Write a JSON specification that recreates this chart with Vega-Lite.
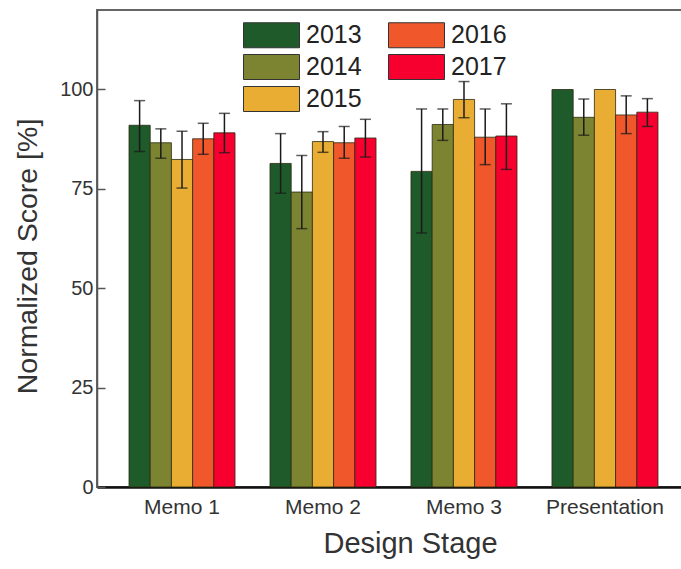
{
  "$schema": "https://vega.github.io/schema/vega-lite/v6.json",
  "autosize": {"type": "none"},
  "padding": {"left": 97, "top": 10, "right": 0, "bottom": 82},
  "width": 593,
  "height": 477,
  "background": "white",
  "config": {
    "font": "Liberation Sans",
    "view": {"stroke": "#666", "strokeWidth": 2}
  },
  "data": {
    "values": [
      {"stage": "Memo 1", "year": "2013", "value": 91.0, "lo": 84.4, "hi": 97.2},
      {"stage": "Memo 1", "year": "2014", "value": 86.6, "lo": 82.7, "hi": 90.1},
      {"stage": "Memo 1", "year": "2015", "value": 82.4, "lo": 75.2, "hi": 89.5},
      {"stage": "Memo 1", "year": "2016", "value": 87.6, "lo": 83.7, "hi": 91.5},
      {"stage": "Memo 1", "year": "2017", "value": 89.1, "lo": 84.1, "hi": 94.0},
      {"stage": "Memo 2", "year": "2013", "value": 81.4, "lo": 73.9, "hi": 88.9},
      {"stage": "Memo 2", "year": "2014", "value": 74.2, "lo": 65.0, "hi": 83.4},
      {"stage": "Memo 2", "year": "2015", "value": 86.9, "lo": 84.2, "hi": 89.4},
      {"stage": "Memo 2", "year": "2016", "value": 86.6, "lo": 82.7, "hi": 90.7},
      {"stage": "Memo 2", "year": "2017", "value": 87.8, "lo": 83.0, "hi": 92.5},
      {"stage": "Memo 3", "year": "2013", "value": 79.4, "lo": 63.9, "hi": 95.1},
      {"stage": "Memo 3", "year": "2014", "value": 91.2, "lo": 87.2, "hi": 95.1},
      {"stage": "Memo 3", "year": "2015", "value": 97.5, "lo": 92.9, "hi": 102.0},
      {"stage": "Memo 3", "year": "2016", "value": 88.0, "lo": 81.1, "hi": 95.1},
      {"stage": "Memo 3", "year": "2017", "value": 88.3, "lo": 79.9, "hi": 96.4},
      {"stage": "Presentation", "year": "2013", "value": 100.0, "lo": null, "hi": null},
      {"stage": "Presentation", "year": "2014", "value": 93.0, "lo": 88.5, "hi": 97.6},
      {"stage": "Presentation", "year": "2015", "value": 100.0, "lo": null, "hi": null},
      {"stage": "Presentation", "year": "2016", "value": 93.6, "lo": 88.9, "hi": 98.4},
      {"stage": "Presentation", "year": "2017", "value": 94.3, "lo": 90.7, "hi": 97.7}
    ]
  },
  "encoding": {
    "x": {
      "field": "stage", "type": "nominal", "sort": null,
      "scale": {"paddingInner": 0.248, "paddingOuter": 0.227},
      "axis": {
        "title": "Design Stage", "titleFontSize": 29, "titleFontWeight": "normal", "titleColor": "#333", "titlePadding": 12, "titleX": 313,
        "labelAngle": 0, "labelFontSize": 21, "labelColor": "#333", "labelPadding": 9,
        "ticks": false, "domainColor": "#111", "domainWidth": 2.5
      }
    },
    "xOffset": {"field": "year", "type": "nominal", "scale": {"paddingInner": 0, "paddingOuter": 0}}
  },
  "layer": [
    {
      "mark": {"type": "bar", "stroke": "#2a2a10", "strokeWidth": 1, "strokeOpacity": 0.8},
      "encoding": {
        "y": {
          "field": "value", "type": "quantitative",
          "scale": {"domain": [0, 120], "nice": false},
          "axis": {
            "title": "Normalized Score [%]", "titleFontSize": 28.5, "titleFontWeight": "normal", "titleColor": "#333", "titlePadding": 17, "titleY": 246,
            "values": [0, 25, 50, 75, 100], "labelFontSize": 20, "labelColor": "#333", "labelPadding": 12,
            "tickSize": -8, "tickColor": "#555", "tickWidth": 1.5, "domainColor": "#555", "domainWidth": 1.5, "grid": false
          }
        },
        "color": {
          "field": "year", "type": "nominal",
          "scale": {"domain": ["2013", "2014", "2015", "2016", "2017"], "range": ["#1f5a2b", "#7d8431", "#e9ad33", "#f0582c", "#f70030"]},
          "legend": {
            "title": null, "orient": "none", "legendX": 161.5, "legendY": 12,
            "columns": 2, "columnPadding": 23, "rowPadding": 2, "padding": 0,
            "symbolType": "M-2.24,-1H2.24V1H-2.24Z", "symbolSize": 625,
            "symbolStrokeColor": "#333", "symbolStrokeWidth": 1, "symbolOpacity": 1,
            "labelFontSize": 25, "labelColor": "#222", "labelOffset": 21.5
          }
        }
      }
    },
    {
      "mark": {"type": "rule", "color": "#1a1a1a", "strokeWidth": 1.5},
      "encoding": {
        "y": {"field": "lo", "type": "quantitative"},
        "y2": {"field": "hi"}
      }
    },
    {
      "mark": {"type": "tick", "color": "#1a1a1a", "thickness": 1.5, "size": 11},
      "encoding": {"y": {"field": "lo", "type": "quantitative"}}
    },
    {
      "mark": {"type": "tick", "color": "#1a1a1a", "thickness": 1.5, "size": 11},
      "encoding": {"y": {"field": "hi", "type": "quantitative"}}
    }
  ]
}
